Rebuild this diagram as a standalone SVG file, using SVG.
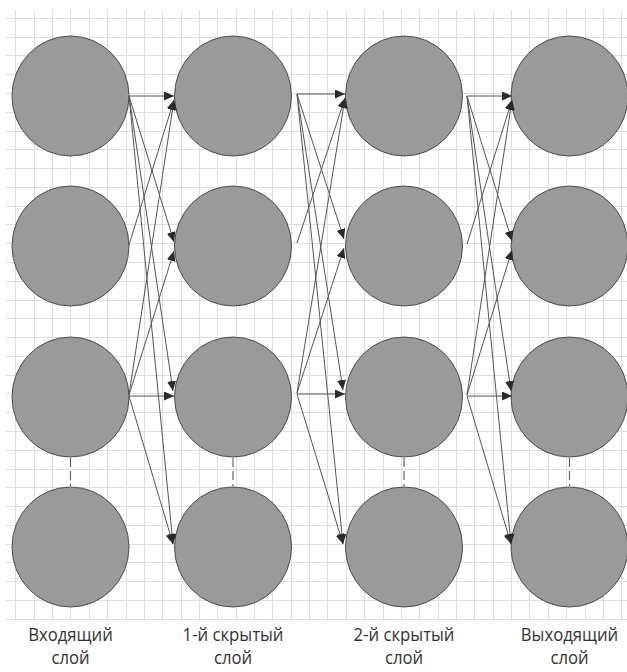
<svg xmlns="http://www.w3.org/2000/svg" width="627" height="672" viewBox="0 0 627 672">
<style>
.grid{stroke:#dedede;stroke-width:1;fill:none}
.node{fill:#9a9a9a;stroke:#4d4d4d;stroke-width:1}
.dash{stroke:#666;stroke-width:1.2;stroke-dasharray:9 4;fill:none}
.c{stroke:#555;stroke-width:1;fill:none;marker-end:url(#ah)}
.lbl{font-family:"Open Sans","Noto Sans",sans-serif;font-size:19px;fill:#333;text-anchor:middle}
</style>
<defs>
<marker id="ah" markerUnits="userSpaceOnUse" markerWidth="12" markerHeight="10" refX="10" refY="4.5" orient="auto">
<path d="M0,0 L10,4.5 L0,9 z" fill="#2b2b2b"/>
</marker>
</defs>
<rect width="627" height="672" fill="#fff"/>
<g id="grid" class="grid">
<path d="M15.5 10V621M34.5 10V621M52.5 10V621M70.5 10V621M89.5 10V621M107.5 10V621M126.5 10V621M144.5 10V621M162.5 10V621M181.5 10V621M199.5 10V621M217.5 10V621M236.5 10V621M254.5 10V621M272.5 10V621M291.5 10V621M309.5 10V621M327.5 10V621M346.5 10V621M364.5 10V621M383.5 10V621M401.5 10V621M419.5 10V621M438.5 10V621M456.5 10V621M474.5 10V621M493.5 10V621M511.5 10V621M529.5 10V621M548.5 10V621M566.5 10V621M585.5 10V621M603.5 10V621M621.5 10V621"/>
<path d="M5 18.5H627M5 37.5H627M5 55.5H627M5 74.5H627M5 93.5H627M5 112.5H627M5 131.5H627M5 149.5H627M5 168.5H627M5 187.5H627M5 206.5H627M5 224.5H627M5 243.5H627M5 262.5H627M5 281.5H627M5 300.5H627M5 318.5H627M5 337.5H627M5 356.5H627M5 375.5H627M5 393.5H627M5 412.5H627M5 431.5H627M5 450.5H627M5 469.5H627M5 487.5H627M5 506.5H627M5 525.5H627M5 544.5H627M5 562.5H627M5 581.5H627M5 600.5H627M5 619.5H627"/>
</g>
<g id="in1"><ellipse class="node" cx="70.5" cy="96" rx="58.5" ry="60"/></g>
<g id="in2"><ellipse class="node" cx="70.5" cy="246" rx="58.5" ry="60"/></g>
<g id="in3"><ellipse class="node" cx="70.5" cy="397" rx="58.5" ry="60"/></g>
<g id="in4"><ellipse class="node" cx="70.5" cy="547" rx="58.5" ry="60"/></g>
<g id="h1_1"><ellipse class="node" cx="233" cy="96" rx="58.5" ry="60"/></g>
<g id="h1_2"><ellipse class="node" cx="233" cy="246" rx="58.5" ry="60"/></g>
<g id="h1_3"><ellipse class="node" cx="233" cy="397" rx="58.5" ry="60"/></g>
<g id="h1_4"><ellipse class="node" cx="233" cy="547" rx="58.5" ry="60"/></g>
<g id="h2_1"><ellipse class="node" cx="404" cy="96" rx="58.5" ry="60"/></g>
<g id="h2_2"><ellipse class="node" cx="404" cy="246" rx="58.5" ry="60"/></g>
<g id="h2_3"><ellipse class="node" cx="404" cy="397" rx="58.5" ry="60"/></g>
<g id="h2_4"><ellipse class="node" cx="404" cy="547" rx="58.5" ry="60"/></g>
<g id="out1"><ellipse class="node" cx="569.5" cy="96" rx="58.5" ry="60"/></g>
<g id="out2"><ellipse class="node" cx="569.5" cy="246" rx="58.5" ry="60"/></g>
<g id="out3"><ellipse class="node" cx="569.5" cy="397" rx="58.5" ry="60"/></g>
<g id="out4"><ellipse class="node" cx="569.5" cy="547" rx="58.5" ry="60"/></g>
<g id="connectors">
<path class="dash" d="M70.5 458V486M233 458V486M404 458V486M569.5 458V486"/>
<path class="c" d="M129 96H174"/>
<path class="c" d="M129 245L174 100"/>
<path class="c" d="M129 395L174 100"/>
<path class="c" d="M129 96L174 242"/>
<path class="c" d="M129 395L174 251"/>
<path class="c" d="M129 96L173 391"/>
<path class="c" d="M129 396H174"/>
<path class="c" d="M129 96L173 544"/>
<path class="c" d="M129 396L173 544"/>
<path class="c" d="M297 94H345"/>
<path class="c" d="M297 243L345 98"/>
<path class="c" d="M297 393L345 98"/>
<path class="c" d="M297 94L344 239"/>
<path class="c" d="M297 393L344 248"/>
<path class="c" d="M297 94L343 390"/>
<path class="c" d="M297 394H345"/>
<path class="c" d="M297 94L343 544"/>
<path class="c" d="M297 394L343 544"/>
<path class="c" d="M467 96H512"/>
<path class="c" d="M467 244L512 100"/>
<path class="c" d="M467 395L512 100"/>
<path class="c" d="M467 96L512 241"/>
<path class="c" d="M467 395L512 250"/>
<path class="c" d="M467 96L511 391"/>
<path class="c" d="M467 396H512"/>
<path class="c" d="M467 96L511 544"/>
<path class="c" d="M467 396L511 544"/>
</g>
<g id="labels">
<text class="lbl" transform="translate(70.5 641) scale(0.88 1)">Входящий</text>
<text class="lbl" transform="translate(70.5 664) scale(0.88 1)">слой</text>
<text class="lbl" transform="translate(233 641) scale(0.88 1)">1-й скрытый</text>
<text class="lbl" transform="translate(233 664) scale(0.88 1)">слой</text>
<text class="lbl" transform="translate(404 641) scale(0.88 1)">2-й скрытый</text>
<text class="lbl" transform="translate(404 664) scale(0.88 1)">слой</text>
<text class="lbl" transform="translate(569.5 641) scale(0.88 1)">Выходящий</text>
<text class="lbl" transform="translate(569.5 664) scale(0.88 1)">слой</text>
</g>
</svg>
